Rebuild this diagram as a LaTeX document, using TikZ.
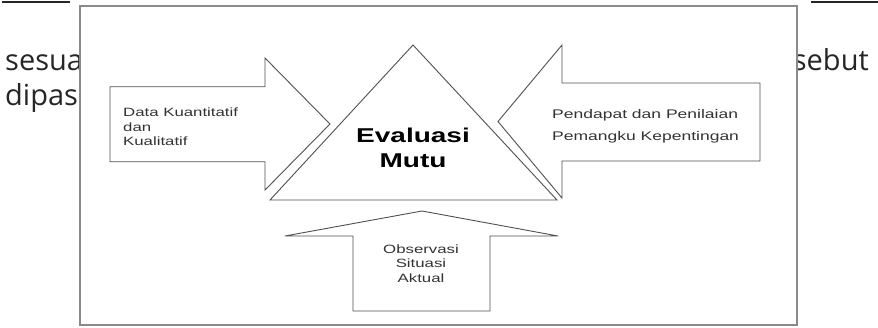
\documentclass[tikz,border=0pt]{standalone}
\usepackage{fontspec}
\setmainfont{Open Sans}
\newfontfamily\diagfont[FakeStretch=1.4]{Liberation Sans}
\definecolor{pagegray}{HTML}{262626}
\definecolor{boxgray}{HTML}{8A8A8A}
\definecolor{edgegray}{HTML}{505050}
\definecolor{labelgray}{HTML}{333333}
\tikzset{
  pagetext/.style={inner sep=0pt,text=pagegray,font=\fontsize{29}{33}\selectfont},
  shapeline/.style={draw=edgegray,line width=0.9pt,fill=white,line join=miter},
  smalllabel/.style={inner sep=0pt,text=labelgray,font={\diagfont\fontsize{12}{14.5}\selectfont}},
}
\begin{document}
\begin{tikzpicture}[x=1pt,y=-1pt]
    \useasboundingbox (0,0) rectangle (878,327);
    \draw[pagegray,line width=1.5pt] (2,2) -- (70,2);
    \draw[pagegray,line width=1.5pt] (811,2) -- (878,2);
    \node[pagetext,anchor=base west] (sesua) at (5,70) {sesua};
    \node[pagetext,anchor=base west] (dipas) at (5,105) {dipas};
    \node[pagetext,anchor=base east] (sebut) at (869,70) {sebut};
    \filldraw[fill=white,draw=boxgray,line width=1.5pt] (80,6) rectangle (797,325);
    % arrow from the left
    \draw[shapeline] (110,86.7) -- (265,86.7) -- (265,58) -- (330,124)
        -- (265,190) -- (265,161.7) -- (110,161.7) -- cycle;
    \node[smalllabel,anchor=west,align=left] (data) at (123,127)
        {Data Kuantitatif\\dan\\Kualitatif};
    % triangle in the middle
    \draw[shapeline] (413,45) -- (557,200) -- (270,200) -- cycle;
    \node[inner sep=0pt,align=center,font={\diagfont\bfseries\fontsize{20}{25}\selectfont}]
        (mutu) at (413,147.5) {Evaluasi\\Mutu};
    % arrow from the right
    \draw[shapeline] (760,83) -- (562,83) -- (562,45) -- (498,121.5)
        -- (562,198) -- (562,161) -- (760,161) -- cycle;
    \node[smalllabel,anchor=west,align=left,font={\diagfont\fontsize{12.5}{22}\selectfont}]
        (pendapat) at (552,126) {Pendapat dan Penilaian\\Pemangku Kepentingan};
    % arrow from below
    \draw[shapeline] (422,211) -- (558,236) -- (490,236) -- (490,311)
        -- (353,311) -- (353,236) -- (285,236) -- cycle;
    \node[smalllabel,align=center] (observasi) at (421,263.5)
        {Observasi\\Situasi\\Aktual};
\end{tikzpicture}
\end{document}
